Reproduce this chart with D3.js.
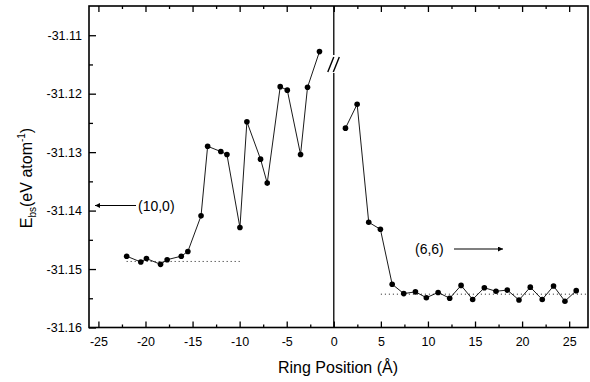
<!DOCTYPE html>
<html>
<head>
<meta charset="utf-8">
<script src="https://cdn.jsdelivr.net/npm/d3@7"></script>
<style>
  body { margin: 0; background: #fff; }
  svg { font-family: Arial, "Liberation Sans", sans-serif; }
</style>
</head>
<body>
<div id="chart"></div>
<script>
// (10,0) tube side, ring positions (Å) and band-structure energies (eV/atom)
var leftPos = [-22.0, -20.5, -19.9, -18.4, -17.7, -16.2, -15.5, -14.1, -13.4, -12.0,
               -11.35, -9.97, -9.23, -7.78, -7.07, -5.69, -4.94, -3.53, -2.79, -1.52];
var leftE = [-31.1478, -31.1488, -31.1482, -31.1492, -31.1484, -31.1478, -31.1470, -31.1409, -31.1290, -31.1299,
             -31.1304, -31.1429, -31.1248, -31.1312, -31.1353, -31.1188, -31.1194, -31.1304, -31.1189, -31.1128];

// (6,6) tube side
var rightPos = [1.24, 2.48, 3.71, 4.95, 6.2, 7.43, 8.67, 9.83, 11.08, 12.31, 13.52,
                14.75, 15.99, 17.23, 18.43, 19.67, 20.87, 22.14, 23.34, 24.55, 25.75];
var rightE = [-31.1259, -31.1218, -31.1420, -31.1432, -31.1526, -31.1542, -31.1539, -31.1549, -31.1540, -31.1550, -31.1528,
              -31.1552, -31.1532, -31.1538, -31.1536, -31.1553, -31.1531, -31.1552, -31.1529, -31.1555, -31.1537];

// bulk reference levels (dotted lines): [from, to, energy]
var leftBulk = [-22, -10, -31.1487];
var rightBulk = [5, 27, -31.1543];

var xTicks = [-25, -20, -15, -10, -5, 0, 5, 10, 15, 20, 25];
var xMinor = [-22.5, -17.5, -12.5, -7.5, -2.5, 2.5, 7.5, 12.5, 17.5, 22.5];
var yTicks = [-31.16, -31.15, -31.14, -31.13, -31.12, -31.11];
var yMinor = [-31.155, -31.145, -31.135, -31.125, -31.115];

var W = 590, H = 382;
var svg = d3.select('#chart').append('svg')
    .attr('width', W)
    .attr('height', H);

var x = d3.scaleLinear().domain([-26, 27]).range([89, 588]);
var y = d3.scaleLinear().domain([-31.16, -31.105]).range([327.5, 6]);

// plain hyphen minus like the original figure
var fmtX = function(d) { return String(d); };
var fmtY = function(d) { return d.toFixed(2); };

// frame
svg.append('rect')
    .attr('x', x(-26)).attr('y', y(-31.105))
    .attr('width', x(27) - x(-26)).attr('height', y(-31.16) - y(-31.105))
    .attr('fill', 'none').attr('stroke', '#000').attr('stroke-width', 1.6);

function styleAxis(g) {
    g.select('.domain').remove();
    g.selectAll('line').attr('stroke', '#000').attr('stroke-width', 1.3);
    g.selectAll('text').attr('fill', '#000').attr('font-size', '12.5px');
}

// bottom axis (inward ticks)
svg.append('g').attr('transform', 'translate(0,' + y(-31.16) + ')')
    .call(d3.axisBottom(x).tickValues(xTicks).tickSize(-6).tickPadding(10).tickFormat(fmtX))
    .call(styleAxis);
svg.append('g').attr('transform', 'translate(0,' + y(-31.16) + ')')
    .call(d3.axisBottom(x).tickValues(xMinor).tickSize(-3).tickFormat(''))
    .call(styleAxis);

// top axis ticks only
svg.append('g').attr('transform', 'translate(0,' + y(-31.105) + ')')
    .call(d3.axisTop(x).tickValues(xTicks).tickSize(-6).tickFormat(''))
    .call(styleAxis);
svg.append('g').attr('transform', 'translate(0,' + y(-31.105) + ')')
    .call(d3.axisTop(x).tickValues(xMinor).tickSize(-3).tickFormat(''))
    .call(styleAxis);

// left axis
svg.append('g').attr('transform', 'translate(' + x(-26) + ',0)')
    .call(d3.axisLeft(y).tickValues(yTicks).tickSize(-7).tickPadding(7).tickFormat(fmtY))
    .call(styleAxis);
svg.append('g').attr('transform', 'translate(' + x(-26) + ',0)')
    .call(d3.axisLeft(y).tickValues(yMinor).tickSize(-4).tickFormat(''))
    .call(styleAxis);

// vertical divider at 0 with a break mark
var brkTop = 55, brkBot = 73;
svg.append('line')
    .attr('x1', x(0)).attr('x2', x(0)).attr('y1', y(-31.105)).attr('y2', brkTop)
    .attr('stroke', '#000').attr('stroke-width', 1.3);
svg.append('line')
    .attr('x1', x(0)).attr('x2', x(0)).attr('y1', brkBot).attr('y2', y(-31.16))
    .attr('stroke', '#000').attr('stroke-width', 1.3);
[-3, 2.5].forEach(function(dx) {
    svg.append('line')
        .attr('x1', x(0) + dx - 3).attr('y1', brkBot - 1)
        .attr('x2', x(0) + dx + 3).attr('y2', brkTop + 2)
        .attr('stroke', '#000').attr('stroke-width', 1.4);
});

// dotted bulk levels
[leftBulk, rightBulk].forEach(function(b) {
    svg.append('line')
        .attr('x1', x(b[0])).attr('x2', x(b[1]))
        .attr('y1', y(b[2])).attr('y2', y(b[2]))
        .attr('stroke', '#000').attr('stroke-width', 0.9)
        .attr('stroke-dasharray', '1,3');
});

// series
var line = d3.line()
    .x(function(d) { return x(d[0]); })
    .y(function(d) { return y(d[1]); });

[[leftPos, leftE], [rightPos, rightE]].forEach(function(s) {
    var pts = d3.zip(s[0], s[1]);
    svg.append('path').datum(pts)
        .attr('d', line)
        .attr('fill', 'none').attr('stroke', '#000').attr('stroke-width', 0.9);
    svg.append('g').selectAll('circle').data(pts)
        .enter().append('circle')
        .attr('cx', function(d) { return x(d[0]); })
        .attr('cy', function(d) { return y(d[1]); })
        .attr('r', 2.8)
        .attr('fill', '#000');
});

// arrow marker
svg.append('defs').append('marker')
    .attr('id', 'arr').attr('viewBox', '0 0 10 10')
    .attr('refX', 10).attr('refY', 5)
    .attr('markerWidth', 8).attr('markerHeight', 5)
    .attr('markerUnits', 'userSpaceOnUse')
    .attr('orient', 'auto')
    .append('path').attr('d', 'M0,0 L10,5 L0,10 Z').attr('fill', '#000');

// (10,0) label with arrow to the left
svg.append('line')
    .attr('x1', 136).attr('x2', 95).attr('y1', 205.5).attr('y2', 205.5)
    .attr('stroke', '#000').attr('stroke-width', 1.1).attr('marker-end', 'url(#arr)');
svg.append('text').attr('x', 138).attr('y', 210.5)
    .attr('font-size', '14px').text('(10,0)');

// (6,6) label with arrow to the right
svg.append('text').attr('x', 415).attr('y', 254)
    .attr('font-size', '14px').text('(6,6)');
svg.append('line')
    .attr('x1', 454).attr('x2', 503).attr('y1', 249).attr('y2', 249)
    .attr('stroke', '#000').attr('stroke-width', 1.1).attr('marker-end', 'url(#arr)');

// axis titles
svg.append('text')
    .attr('x', 338).attr('y', 373)
    .attr('text-anchor', 'middle').attr('font-size', '16px')
    .text('Ring Position (Å)');

var yt = svg.append('text')
    .attr('transform', 'translate(32,178) rotate(-90)')
    .attr('text-anchor', 'middle').attr('font-size', '16px');
yt.append('tspan').text('E');
yt.append('tspan').attr('font-size', '10px').attr('dy', 4).text('bs');
yt.append('tspan').attr('dy', -4).text('(eV atom');
yt.append('tspan').attr('font-size', '10px').attr('dy', -7).text('-1');
yt.append('tspan').attr('dy', 7).text(')');
</script>
</body>
</html>
